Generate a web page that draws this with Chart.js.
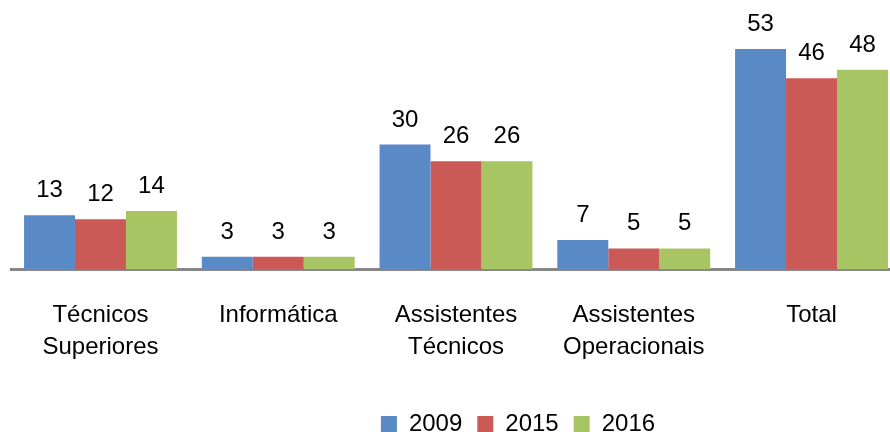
<!DOCTYPE html>
<html>
<head>
<meta charset="utf-8">
<script src="https://cdn.jsdelivr.net/npm/chart.js@4"></script>
<style>
  html, body { margin: 0; padding: 0; background: #fff; overflow: hidden; }
  #wrap { width: 890px; height: 432px; overflow: hidden; }
</style>
</head>
<body>
<div id="wrap"><canvas id="myChart" width="910" height="432"></canvas></div>
<script>
// categories and series
var categories = [['Técnicos', 'Superiores'], 'Informática', ['Assistentes', 'Técnicos'], ['Assistentes', 'Operacionais'], 'Total'];
var years = ['2009', '2015', '2016'];
var values2009 = [13, 3, 30, 7, 53];
var values2015 = [12, 3, 26, 5, 46];
var values2016 = [14, 3, 26, 5, 48];
var colors = ['#5A8AC6', '#CB5A56', '#A7C563'];

var FONT = 'Liberation Sans, Arial, sans-serif';

// draws the value above each bar
var valueLabels = {
  id: 'valueLabels',
  afterDatasetsDraw: function(chart) {
    var ctx = chart.ctx;
    ctx.save();
    ctx.font = '24px ' + FONT;
    ctx.fillStyle = '#000';
    ctx.textAlign = 'center';
    ctx.textBaseline = 'alphabetic';
    chart.data.datasets.forEach(function(ds, i) {
      chart.getDatasetMeta(i).data.forEach(function(bar, j) {
        ctx.fillText(ds.data[j], bar.x, bar.y - 18);
      });
    });
    ctx.restore();
  }
};

// the excel legend sits a bit right of centre
var legendShift = {
  id: 'legendShift',
  afterLayout: function(chart) {
    var lg = chart.legend;
    lg.left += 62; lg.right += 62;
    lg.top += 4; lg.bottom += 4;
  }
};

var ctx = document.getElementById('myChart').getContext('2d');
var chart = new Chart(ctx, {
  type: 'bar',
  data: {
    labels: categories,
    datasets: [
      { label: years[0], data: values2009, backgroundColor: colors[0] },
      { label: years[1], data: values2015, backgroundColor: colors[1] },
      { label: years[2], data: values2016, backgroundColor: colors[2] }
    ]
  },
  options: {
    responsive: false,
    animation: false,
    layout: { padding: { top: 20, left: 11.6, right: 9.6, bottom: -10 } },
    datasets: { bar: { categoryPercentage: 0.86, barPercentage: 1.0 } },
    scales: {
      x: {
        grid: { display: false, drawTicks: false },
        border: { display: true, color: '#878787', width: 3 },
        ticks: { color: '#000', padding: 30, maxRotation: 0, autoSkip: false,
                 font: { family: FONT, size: 24, lineHeight: 1.33 } }
      },
      y: { display: false, min: 0, max: 60 }
    },
    plugins: {
      legend: {
        position: 'bottom',
        labels: { color: '#000', boxWidth: 16, boxHeight: 16, padding: 15,
                  font: { family: FONT, size: 24 } }
      },
      tooltip: { enabled: false }
    }
  },
  plugins: [valueLabels, legendShift]
});
</script>
</body>
</html>
